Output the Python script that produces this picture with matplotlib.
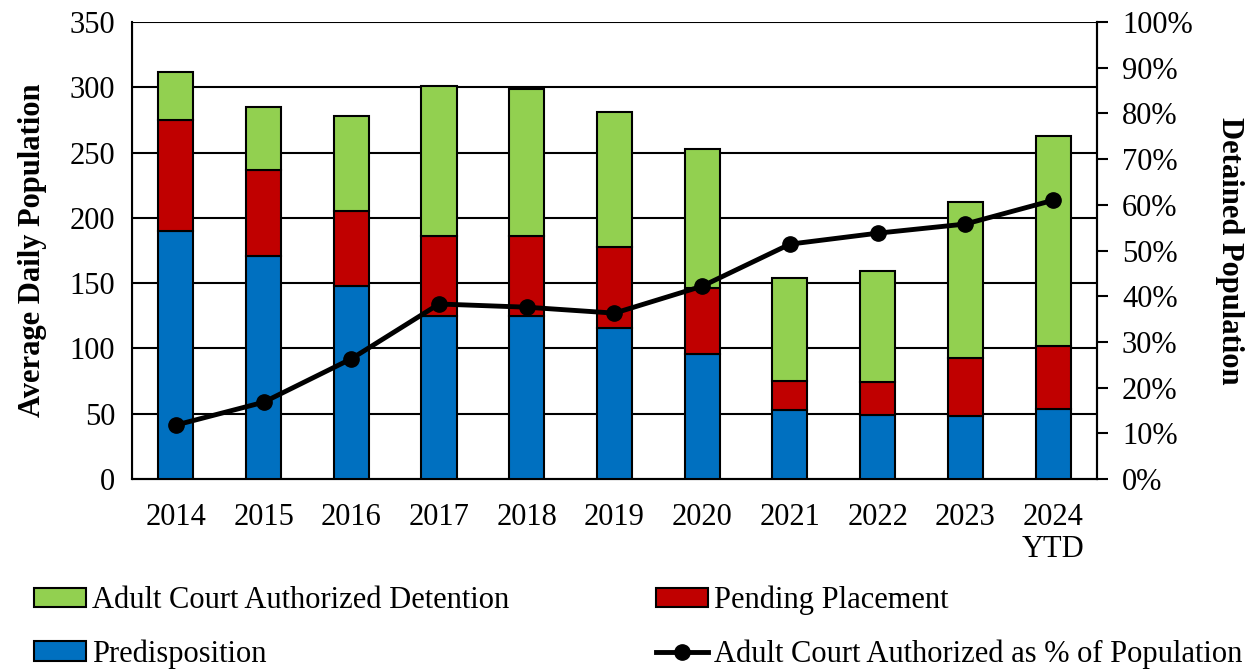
import matplotlib
matplotlib.use("Agg")
import matplotlib.pyplot as plt
from matplotlib.ticker import PercentFormatter

# data
years = ["2014", "2015", "2016", "2017", "2018", "2019", "2020", "2021", "2022", "2023", "2024\nYTD"]
predisposition = [190, 171, 148, 125, 125, 116, 96, 53, 49, 48, 54]
pending_placement = [85, 66, 57, 61, 61, 62, 50, 22, 25, 45, 48]
adult_court = [37, 48, 73, 115, 113, 103, 107, 79, 85, 119, 161]
adult_pct = [11.8, 16.8, 26.3, 38.3, 37.6, 36.3, 42.2, 51.4, 53.8, 55.8, 61.0]

plt.rcParams['font.family'] = ['Liberation Serif', 'DejaVu Serif']
FS = 22

fig = plt.figure(figsize=(12.57, 6.69), dpi=100)
ax = fig.add_axes([0.105, 0.284, 0.7677, 0.683])
x = list(range(len(years)))
w = 0.4
ec = dict(edgecolor='black', linewidth=1.5, zorder=3)

b1 = ax.bar(x, predisposition, w, color='#0070C0', **ec)
b2 = ax.bar(x, pending_placement, w, bottom=predisposition, color='#C00000', **ec)
bottom2 = [a + b for a, b in zip(predisposition, pending_placement)]
b3 = ax.bar(x, adult_court, w, bottom=bottom2, color='#92D050', **ec)

ax.set_xlim(-0.5, len(years) - 0.5)
ax.set_ylim(0, 350)
ax.set_yticks(range(0, 351, 50))
ax.yaxis.grid(True, color='black', linewidth=1.5, zorder=0)
ax.set_axisbelow(True)
ax.set_xticks(x)
ax.set_xticklabels(years, fontsize=FS, linespacing=1.15)
ax.tick_params(axis='y', labelsize=FS, length=0, pad=12)
ax.tick_params(axis='x', length=0, pad=17)
ax.spines['top'].set_visible(False)
for s in ['left', 'bottom', 'right']:
    ax.spines[s].set_linewidth(1.5)
ax.set_ylabel("Average Daily Population", fontsize=FS, fontweight='bold', labelpad=16)

ax2 = ax.twinx()
ax2.set_ylim(0, 100)
ax2.set_yticks(range(0, 101, 10))
ax2.yaxis.set_major_formatter(PercentFormatter(decimals=0))
ax2.tick_params(axis='y', labelsize=FS, direction='out', length=8, width=1.5, pad=10)
ax2.spines['top'].set_visible(False)
ax2.spines['right'].set_linewidth(1.5)
line, = ax2.plot(x, adult_pct, color='black', linewidth=3.5, marker='o', markersize=11, zorder=5)
ax2.set_ylabel("Detained Population", fontsize=FS, fontweight='bold', rotation=-90, labelpad=37)

fig.legend([b3, b1, b2, line],
           ["Adult Court Authorized Detention", "Predisposition",
            "Pending Placement", "Adult Court Authorized as % of Population"],
           loc='upper left', bbox_to_anchor=(0.015, 0.147), ncol=2, frameon=False,
           fontsize=FS, handlelength=1.7, handleheight=0.6, handletextpad=0.2,
           columnspacing=4.8, labelspacing=0.78, borderpad=0)

fig.savefig("out.png", dpi=100)
